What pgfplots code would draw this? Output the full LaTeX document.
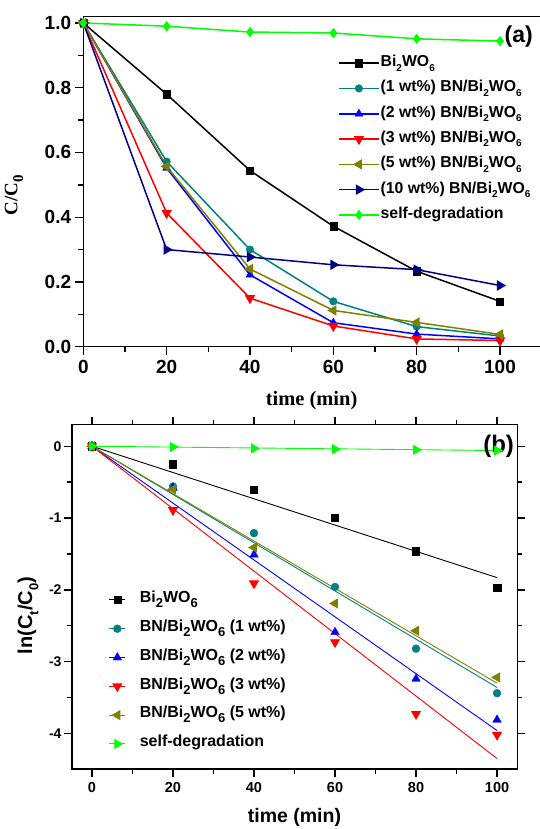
\documentclass[border=0pt]{standalone}
\usepackage{pgfplots}
\pgfplotsset{compat=1.18}
\usepackage{fontspec}
\setmainfont{Liberation Sans}
\newfontfamily\timesfont{Liberation Serif}
\definecolor{cteal}{RGB}{0,128,128}
\definecolor{colive}{RGB}{128,128,0}
\definecolor{cnavy}{RGB}{0,0,128}
\definecolor{cgreen}{RGB}{0,255,0}
\newcommand{\fs}[1]{\fontsize{#1}{#1}\selectfont}
\newcommand{\subA}[1]{\raisebox{-0.28em}{\fs{10}#1}}
\newcommand{\subB}[1]{\raisebox{-0.32em}{\fs{13}#1}}
\newcommand{\subL}[1]{\raisebox{-0.30em}{\fs{15}#1}}
\begin{document}
\begin{tikzpicture}
\useasboundingbox (0,0) rectangle (540pt,829pt);
% ---------------- panel (a) ----------------
\begin{axis}[
  at={(83.3pt,482.3pt)}, anchor=south west, scale only axis,
  width=458.4pt, height=330.2pt,
  xmin=0, xmax=110, ymin=0, ymax=1.02,
  xtick={0,20,40,60,80,100}, ytick={0,0.2,0.4,0.6,0.8,1.0},
  minor x tick num=1, minor y tick num=1,
  tick align=outside, xtick pos=left, ytick pos=left,
  major tick length=8pt, minor tick length=5pt,
  axis line style={line width=1.6pt},
  every tick/.style={line width=1.4pt, black},
  /pgf/number format/assume math mode=true,
  xticklabel style={font=\bfseries\fs{19}, inner sep=0pt, yshift=-5pt},
  yticklabel style={font=\bfseries\fs{19}, inner sep=0pt, xshift=-4pt,
     /pgf/number format/.cd, fixed, fixed zerofill, precision=1},
  xlabel={time (min)},
  xlabel style={at={(axis description cs:0.498,-0.164)}, anchor=center, font=\timesfont\bfseries\fs{20.5}},
  ylabel={C/C\subL{0}},
  ylabel style={at={(axis description cs:-0.151,0.459)}, anchor=center, font=\timesfont\bfseries\fs{19}},
  legend style={at={(axis description cs:0.5556,0.885)}, anchor=north west, draw=none, fill=none,
     font=\bfseries\fs{15.8}, row sep=8.3pt, inner sep=0pt,
     nodes={inner sep=1pt, text height=11pt, text depth=4pt}},
  legend cell align=left,
  legend image code/.code={\draw[mark repeat=2,mark phase=2,#1] plot coordinates {(0pt,0pt)(20pt,0pt)(40pt,0pt)};},
  every axis plot/.append style={line width=1.5pt, mark options={solid, line width=0.4pt}},
]
\addplot[black, mark=square*, mark size=3.6pt] coordinates {(0,1.0)(20,0.780)(40,0.544)(60,0.372)(80,0.233)(100,0.140)};
\addlegendentry{Bi\subA{2}WO\subA{6}}
\addplot[cteal, mark=*, mark size=3.8pt] coordinates {(0,1.0)(20,0.572)(40,0.300)(60,0.140)(80,0.062)(100,0.033)};
\addlegendentry{(1 wt\%) BN/Bi\subA{2}WO\subA{6}}
\addplot[blue, mark=triangle*, mark size=4.6pt] coordinates {(0,1.0)(20,0.552)(40,0.222)(60,0.074)(80,0.039)(100,0.024)};
\addlegendentry{(2 wt\%) BN/Bi\subA{2}WO\subA{6}}
\addplot[red, mark=triangle*, mark size=4.6pt, mark options={rotate=180}] coordinates {(0,1.0)(20,0.413)(40,0.150)(60,0.064)(80,0.024)(100,0.019)};
\addlegendentry{(3 wt\%) BN/Bi\subA{2}WO\subA{6}}
\addplot[colive, mark=triangle*, mark size=4.6pt, mark options={rotate=90}] coordinates {(0,1.0)(20,0.557)(40,0.240)(60,0.112)(80,0.075)(100,0.038)};
\addlegendentry{(5 wt\%) BN/Bi\subA{2}WO\subA{6}}
\addplot[cnavy, mark=triangle*, mark size=4.6pt, mark options={rotate=270}] coordinates {(0,1.0)(20,0.300)(40,0.277)(60,0.253)(80,0.238)(100,0.189)};
\addlegendentry{(10 wt\%) BN/Bi\subA{2}WO\subA{6}}
\addplot[cgreen, mark=diamond*, mark size=4.8pt] coordinates {(0,1.0)(20,0.990)(40,0.972)(60,0.969)(80,0.951)(100,0.944)};
\addlegendentry{self-degradation}
\node[font=\bfseries\fs{23}] at (rel axis cs:0.950,0.938) {(a)};
\end{axis}
% ---------------- panel (b) ----------------
\begin{axis}[
  at={(71.7pt,59.7pt)}, anchor=south west, scale only axis,
  width=445.6pt, height=344.6pt,
  xmin=-5, xmax=105, ymin=-4.5, ymax=0.3,
  xtick={0,20,40,60,80,100}, ytick={-4,-3,-2,-1,0},
  minor x tick num=1, minor y tick num=1,
  tick align=outside,
  major tick length=8pt, minor tick length=5pt,
  axis line style={line width=1.6pt},
  every tick/.style={line width=1.4pt, black},
  /pgf/number format/assume math mode=true,
  xticklabel style={font=\bfseries\fs{14.5}, inner sep=0pt, yshift=-5pt},
  yticklabel style={font=\bfseries\fs{14}, inner sep=0pt, xshift=-2pt},
  xlabel={time (min)},
  xlabel style={at={(axis description cs:0.5,-0.141)}, anchor=center, font=\bfseries\fs{19.5}},
  ylabel={ln(C\subB{t}/C\subB{0})},
  ylabel style={at={(axis description cs:-0.098,0.446)}, anchor=center, font=\bfseries\fs{20}},
  legend style={at={(axis description cs:0.083,0.522)}, anchor=north west, draw=none, fill=none,
     font=\bfseries\fs{16}, row sep=8.2pt, inner sep=0pt, column sep=13pt,
     nodes={inner sep=1pt, text height=12pt, text depth=6.6pt}},
  legend cell align=left,
  legend image code/.code={\path (-8pt,0pt) -- (8pt,0pt); \draw[#1] plot coordinates {(0pt,0pt)};},
  every axis plot/.append style={line width=0.9pt, mark options={solid, line width=0.3pt}},
]
% fitted lines
\addplot[black, forget plot] coordinates {(0,0)(100,-1.83)};
\addplot[cteal, forget plot] coordinates {(0,0)(100,-3.36)};
\addplot[blue, forget plot] coordinates {(0,0)(100,-3.96)};
\addplot[red, forget plot] coordinates {(0,0)(100,-4.35)};
\addplot[colive, forget plot] coordinates {(0,0)(100,-3.30)};
\addplot[cgreen, forget plot] coordinates {(0,0)(100,-0.06)};
% data points
\addplot[black, only marks, mark=square*, mark size=3.6pt] coordinates {(0,0)(20,-0.25)(40,-0.61)(60,-0.99)(80,-1.46)(100,-1.97)};
\addlegendentry{Bi\subB{2}WO\subB{6}}
\addplot[cteal, only marks, mark=*, mark size=4pt] coordinates {(0,0)(20,-0.56)(40,-1.21)(60,-1.96)(80,-2.82)(100,-3.44)};
\addlegendentry{BN/Bi\subB{2}WO\subB{6} (1 wt\%)}
\addplot[blue, only marks, mark=triangle*, mark size=5pt] coordinates {(0,0)(20,-0.58)(40,-1.51)(60,-2.59)(80,-3.24)(100,-3.81)};
\addlegendentry{BN/Bi\subB{2}WO\subB{6} (2 wt\%)}
\addplot[red, only marks, mark=triangle*, mark size=5pt, mark options={rotate=180}] coordinates {(0,0)(20,-0.89)(40,-1.91)(60,-2.73)(80,-3.73)(100,-4.02)};
\addlegendentry{BN/Bi\subB{2}WO\subB{6} (3 wt\%)}
\addplot[colive, only marks, mark=triangle*, mark size=5pt, mark options={rotate=90}] coordinates {(0,0)(20,-0.60)(40,-1.41)(60,-2.19)(80,-2.57)(100,-3.22)};
\addlegendentry{BN/Bi\subB{2}WO\subB{6} (5 wt\%)}
\addplot[cgreen, only marks, mark=triangle*, mark size=5pt, mark options={rotate=270}] coordinates {(0,0)(20,-0.01)(40,-0.03)(60,-0.04)(80,-0.05)(100,-0.06)};
\addlegendentry{self-degradation}
\node[font=\bfseries\fs{24}] at (rel axis cs:0.958,0.938) {(b)};
\end{axis}
\end{tikzpicture}
\end{document}
